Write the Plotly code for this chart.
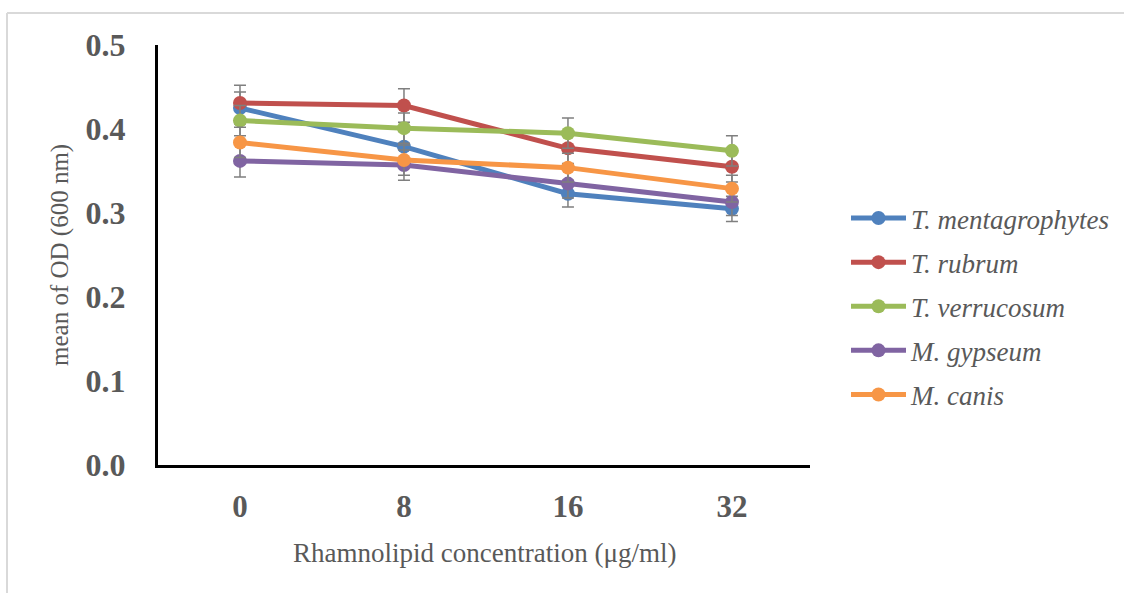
import plotly.graph_objects as go

categories = ["0", "8", "16", "32"]
series_names = ["T. mentagrophytes", "T. rubrum", "T. verrucosum", "M. gypseum", "M. canis"]
t_mentagrophytes = [0.425, 0.379, 0.323, 0.305]
t_rubrum = [0.431, 0.428, 0.377, 0.355]
t_verrucosum = [0.410, 0.401, 0.395, 0.374]
m_gypseum = [0.362, 0.357, 0.335, 0.313]
m_canis = [0.384, 0.363, 0.354, 0.329]
err_t_mentagrophytes = [0.019, 0.018, 0.016, 0.015]
err_t_rubrum = [0.021, 0.020, 0.018, 0.018]
err_t_verrucosum = [0.018, 0.018, 0.018, 0.018]
err_m_gypseum = [0.019, 0.018, 0.017, 0.016]
err_m_canis = [0.018, 0.018, 0.017, 0.016]

values = [t_mentagrophytes, t_rubrum, t_verrucosum, m_gypseum, m_canis]
errors = [err_t_mentagrophytes, err_t_rubrum, err_t_verrucosum, err_m_gypseum, err_m_canis]
colors = ["#4F81BD", "#C0504D", "#9BBB59", "#8064A2", "#F79646"]

W, H = 1124, 593
L, R, T, B = 158, 810, 45, 465
PW, PH = R - L, B - T

def px(x):
    return (x - L) / PW

def py(y):
    return (B - y) / PH

xpos = list(range(len(categories)))
fig = go.Figure()
for name, vals, errs, col in zip(series_names, values, errors, colors):
    fig.add_trace(go.Scatter(
        x=xpos, y=vals, name="<i>" + name + "</i>", mode="lines+markers",
        line=dict(color=col, width=5),
        marker=dict(color=col, size=14),
        error_y=dict(type="data", array=errs, visible=True, color="#7f7f7f", thickness=1.5, width=6),
        legendgroup=name,
    ))

serif = "Liberation Serif"
fig.update_layout(
    width=W, height=H,
    paper_bgcolor="white", plot_bgcolor="white",
    margin=dict(l=L, r=W - R, t=T, b=H - B),
    font=dict(family=serif, color="#595959"),
    showlegend=True,
    legend=dict(
        xref="container", yref="container",
        x=846/W, y=1 - 194/H, xanchor="left", yanchor="top",
        font=dict(family=serif, size=27, color="#595959"),
        tracegroupgap=6, itemwidth=55,
        bgcolor="rgba(0,0,0,0)",
    ),
    xaxis=dict(
        range=[-0.5, 3.476], tickmode="array", tickvals=xpos, ticktext=categories,
        showgrid=False, zeroline=False, showline=True, linecolor="black", linewidth=3,
        ticks="", ticklabelstandoff=12,
        tickfont=dict(family=serif, size=31, color="#595959", weight="bold"),
    ),
    yaxis=dict(
        range=[0, 0.5], tickvals=[0, 0.1, 0.2, 0.3, 0.4, 0.5], tickformat=".1f",
        showgrid=False, zeroline=False, showline=True, linecolor="black", linewidth=3,
        ticks="", ticklabelstandoff=23,
        tickfont=dict(family=serif, size=32, color="#595959", weight="bold"),
    ),
    annotations=[
        dict(text="Rhamnolipid concentration (μg/ml)", xref="paper", yref="paper",
             x=px(484), y=py(553), xanchor="center", yanchor="middle", showarrow=False,
             font=dict(family=serif, size=27, color="#595959")),
        dict(text="mean of OD (600 nm)", xref="paper", yref="paper",
             x=px(60), y=py(255), xanchor="center", yanchor="middle", showarrow=False,
             textangle=-90, font=dict(family=serif, size=25, color="#595959")),
    ],
    shapes=[
        dict(type="line", xref="paper", yref="paper", x0=px(7), x1=px(W),
             y0=py(13), y1=py(13), line=dict(color="#d9d9d9", width=2)),
        dict(type="line", xref="paper", yref="paper", x0=px(7), x1=px(7),
             y0=py(13), y1=py(H), line=dict(color="#d9d9d9", width=2)),
    ],
)
fig.write_html("out.html", config={"displayModeBar": False},
               post_script="document.body.style.margin='0';document.body.style.overflow='hidden';")
